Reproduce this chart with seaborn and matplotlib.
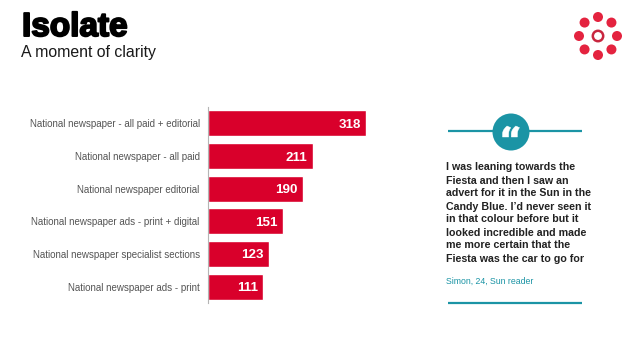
import numpy as np
import pandas as pd
import matplotlib
matplotlib.use("Agg")
import matplotlib.pyplot as plt
import matplotlib.patheffects as pe
from matplotlib.font_manager import FontProperties
from matplotlib.patches import Circle, PathPatch
from matplotlib.textpath import TextPath
from matplotlib.transforms import Affine2D
import seaborn as sns

# ---------------------------------------------------------
# DATA
# ---------------------------------------------------------
categories = [
    "National newspaper - all paid + editorial",
    "National newspaper - all paid",
    "National newspaper editorial",
    "National newspaper ads - print + digital",
    "National newspaper specialist sections",
    "National newspaper ads - print",
]
values = [318, 211, 190, 151, 123, 111]

quote_lines = [
    "I was leaning towards the",
    "Fiesta and then I saw an",
    "advert for it in the Sun in the",
    "Candy Blue. I\u2019d never seen it",
    "in that colour before but it",
    "looked incredible and made",
    "me more certain that the",
    "Fiesta was the car to go for",
]

RED = "#d9002b"
TEAL = "#1b94a5"
W, H = 638, 359

sns.set_theme(style="white")
plt.rcParams["font.family"] = ["Liberation Sans", "DejaVu Sans"]

df = pd.DataFrame({"cat": categories, "val": values})

fig = plt.figure(figsize=(W / 100, H / 100), dpi=100, facecolor="white")

# ---------------------------------------------------------
# BAR CHART
# ---------------------------------------------------------
top, bottom, left, right = 107, 303, 208, 400
ax = fig.add_axes([left / W, 1 - bottom / H, (right - left) / W, (bottom - top) / H])
sns.barplot(data=df, x="val", y="cat", color=RED, saturation=1, width=0.8, ax=ax)
ax.set_xlim(0, (right - left) / 0.498)
ax.set_xlabel("")
ax.set_ylabel("")
ax.xaxis.set_visible(False)
ax.tick_params(axis="y", length=0, pad=6, labelsize=7.05, labelcolor="#555555")
for s in ["top", "right", "bottom"]:
    ax.spines[s].set_visible(False)
ax.spines["left"].set_color("#b5b5b5")
ax.spines["left"].set_linewidth(0.8)
ax.patch.set_alpha(0)

for i, v in enumerate(values):
    ax.annotate(str(v), (v, i), xytext=(-4, 0), textcoords="offset points",
                ha="right", va="center_baseline", color="white",
                fontsize=9.6, fontweight="bold")

# ---------------------------------------------------------
# SLIDE DECORATION (pixel coordinates)
# ---------------------------------------------------------
deco = fig.add_axes([0, 0, 1, 1], zorder=-1)
deco.set_xlim(0, W)
deco.set_ylim(H, 0)
deco.axis("off")

deco.text(22, 36, "Isolate", fontsize=24, fontweight="bold", color="black",
          path_effects=[pe.withStroke(linewidth=1.4, foreground="black")])
deco.text(21, 57, "A moment of clarity", fontsize=11.45, color="#1a1a1a")

# logo
cx, cy = 598, 36
for a in np.arange(0, 360, 45):
    px = cx + 19 * np.cos(np.radians(a))
    py = cy + 19 * np.sin(np.radians(a))
    deco.add_patch(Circle((px, py), 5, color="#e4233f", lw=0))
deco.add_patch(Circle((cx, cy), 5.2, fc="white", ec="#c8263f", lw=1.8))

# quote block
deco.plot([448, 582], [131, 131], color=TEAL, lw=1.6, solid_capstyle="butt")
deco.add_patch(Circle((511, 132), 18.5, color=TEAL, lw=0, zorder=3))

# quote icon, fitted into its box as a shape
glyph = TextPath((0, 0), "\u201c", size=10, prop=FontProperties(family="Roboto", weight="black"))
gb = glyph.get_extents()
fit = (Affine2D().translate(-gb.x0, -gb.y0)
       .scale(17 / gb.width, -11 / gb.height)
       .translate(502.5, 137))
deco.add_patch(PathPatch(fit.transform_path(glyph), fc="white", ec="white", lw=0.3, zorder=4))

y = 167.5
for line in quote_lines:
    deco.text(446, y, line, fontsize=7.7, fontweight="bold", color="#222222", va="center")
    y += 13

deco.text(446, 281, "Simon, 24, Sun reader", fontsize=6.3, color=TEAL, va="center")
deco.plot([448, 582], [303, 303], color=TEAL, lw=1.6, solid_capstyle="butt")

fig.savefig("out.png", dpi=100)
